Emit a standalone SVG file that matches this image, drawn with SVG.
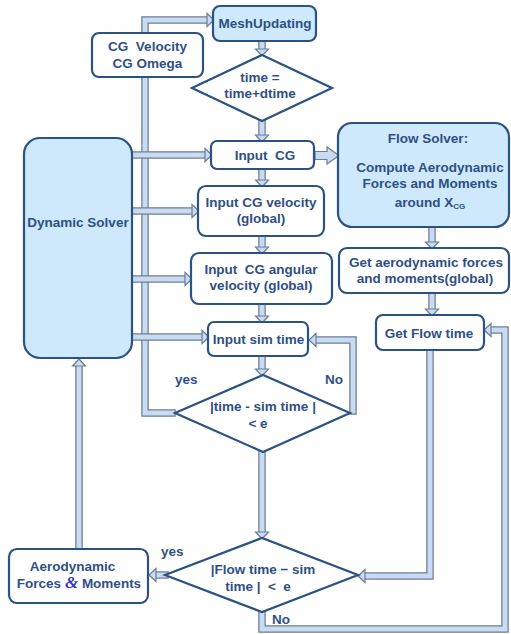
<svg xmlns="http://www.w3.org/2000/svg" xmlns:xlink="http://www.w3.org/1999/xlink" width="511" height="634" viewBox="0 0 511 634">
<defs>
<style>
.box{fill:#ffffff;stroke:#2b5283;stroke-width:2.2}
.blue{fill:#cde9fb}
.t{font-family:"Liberation Sans",Arial,sans-serif;font-weight:bold;font-size:13.5px;fill:#2f4f86;text-anchor:middle}
.l{text-anchor:start}
.po{fill:none;stroke:#6d7d92;stroke-width:7.5;stroke-linecap:square;stroke-linejoin:miter}
.pi{fill:none;stroke:#c8dbf2;stroke-width:5;stroke-linecap:square;stroke-linejoin:miter}
.ah{fill:#c8dbf2;stroke:#6d7d92;stroke-width:1.2;stroke-linejoin:miter}
</style>
<path id="ah" d="M0,0 L-7,-6.5 L-7,6.5 Z"/>
<path id="c1" d="M172,413 H145 V20 H205"/>
<path id="c2" d="M262,42 V47"/>
<path id="c3" d="M262,122 V133"/>
<path id="c4" d="M262,170 V178"/>
<path id="c5" d="M262,237 V245"/>
<path id="c6" d="M262,305 V314"/>
<path id="c7" d="M262,357 V367"/>
<path id="c8" d="M262,454 V530"/>
<path id="c9" d="M262,614 V629 H505 V330 H492"/>
<path id="c10" d="M430,352 V576 H367"/>
<path id="c11" d="M165,575 H157"/>
<path id="c12" d="M79,546 V368"/>
<path id="c13" d="M353,411 V340 H317"/>
<path id="c14" d="M130,155 H203"/>
<path id="c15" d="M130,211 H190"/>
<path id="c16" d="M130,279 H183"/>
<path id="c17" d="M130,337 H200"/>
<path id="c18" d="M432,230 V240"/>
<path id="c19" d="M432,296 V307"/>
</defs>

<g id="connectors">
<use xlink:href="#c1" class="po"/><use xlink:href="#c1" class="pi"/>
<use xlink:href="#ah" class="ah" transform="translate(214,20)"/>
<use xlink:href="#c14" class="po"/><use xlink:href="#c14" class="pi"/>
<use xlink:href="#ah" class="ah" transform="translate(212,155)"/>
<use xlink:href="#c15" class="po"/><use xlink:href="#c15" class="pi"/>
<use xlink:href="#ah" class="ah" transform="translate(199,211)"/>
<use xlink:href="#c16" class="po"/><use xlink:href="#c16" class="pi"/>
<use xlink:href="#ah" class="ah" transform="translate(192,279)"/>
<use xlink:href="#c17" class="po"/><use xlink:href="#c17" class="pi"/>
<use xlink:href="#ah" class="ah" transform="translate(209,337)"/>
<use xlink:href="#c2" class="po"/><use xlink:href="#c2" class="pi"/>
<use xlink:href="#ah" class="ah" transform="translate(262,56) rotate(90)"/>
<use xlink:href="#c3" class="po"/><use xlink:href="#c3" class="pi"/>
<use xlink:href="#ah" class="ah" transform="translate(262,142) rotate(90)"/>
<use xlink:href="#c4" class="po"/><use xlink:href="#c4" class="pi"/>
<use xlink:href="#ah" class="ah" transform="translate(262,187) rotate(90)"/>
<use xlink:href="#c5" class="po"/><use xlink:href="#c5" class="pi"/>
<use xlink:href="#ah" class="ah" transform="translate(262,254) rotate(90)"/>
<use xlink:href="#c6" class="po"/><use xlink:href="#c6" class="pi"/>
<use xlink:href="#ah" class="ah" transform="translate(262,323) rotate(90)"/>
<use xlink:href="#c7" class="po"/><use xlink:href="#c7" class="pi"/>
<use xlink:href="#ah" class="ah" transform="translate(262,376) rotate(90)"/>
<use xlink:href="#c8" class="po"/><use xlink:href="#c8" class="pi"/>
<use xlink:href="#ah" class="ah" transform="translate(262,539) rotate(90)"/>
<use xlink:href="#c9" class="po"/><use xlink:href="#c9" class="pi"/>
<use xlink:href="#ah" class="ah" transform="translate(484,330) rotate(180)"/>
<use xlink:href="#c10" class="po"/><use xlink:href="#c10" class="pi"/>
<use xlink:href="#ah" class="ah" transform="translate(358,576) rotate(180)"/>
<use xlink:href="#c11" class="po"/><use xlink:href="#c11" class="pi"/>
<use xlink:href="#ah" class="ah" transform="translate(149,575) rotate(180)"/>
<use xlink:href="#c12" class="po"/><use xlink:href="#c12" class="pi"/>
<use xlink:href="#ah" class="ah" transform="translate(79,359) rotate(-90)"/>
<use xlink:href="#c13" class="po"/><use xlink:href="#c13" class="pi"/>
<use xlink:href="#ah" class="ah" transform="translate(309,340) rotate(180)"/>
<use xlink:href="#c18" class="po"/><use xlink:href="#c18" class="pi"/>
<use xlink:href="#ah" class="ah" transform="translate(432,249) rotate(90)"/>
<use xlink:href="#c19" class="po"/><use xlink:href="#c19" class="pi"/>
<use xlink:href="#ah" class="ah" transform="translate(432,316) rotate(90)"/>
<polygon class="ah" points="315,151.5 327,151.5 327,147 339,155.5 327,164 327,159.5 315,159.5"/>
<text class="t l" x="175" y="384">yes</text>
<text class="t l" x="325" y="384">No</text>
<text class="t l" x="161" y="556">yes</text>
<text class="t l" x="272" y="624">No</text>
</g>

<g id="mesh">
<rect class="box blue" x="213" y="6" width="103" height="35" rx="7"/>
<text class="t" x="265" y="28">MeshUpdating</text>
</g>
<g id="cgvel">
<rect class="box" x="92" y="33" width="111" height="44" rx="7"/>
<text class="t" x="147.5" y="51" xml:space="preserve">CG  Velocity</text>
<text class="t" x="147.5" y="68">CG Omega</text>
</g>
<g id="timestep">
<polygon class="box" points="192,88 262,55 332,88 262,121"/>
<text class="t" x="260" y="82">time =</text>
<text class="t" x="260" y="98">time+dtime</text>
</g>
<g id="inputcg">
<rect class="box" x="211" y="141" width="103" height="28" rx="6"/>
<text class="t" x="265" y="160" xml:space="preserve">Input  CG</text>
</g>
<g id="inputvel">
<rect class="box" x="198" y="186" width="126" height="50" rx="8"/>
<text class="t" x="261" y="207">Input CG velocity</text>
<text class="t" x="261" y="223">(global)</text>
</g>
<g id="inputang">
<rect class="box" x="191" y="253" width="141" height="51" rx="8"/>
<text class="t" x="261" y="274" xml:space="preserve">Input  CG angular</text>
<text class="t" x="261" y="290">velocity (global)</text>
</g>
<g id="inputsim">
<rect class="box" x="208" y="322" width="100" height="34" rx="6"/>
<text class="t" x="258.5" y="344">Input sim time</text>
</g>
<g id="check1">
<polygon class="box" points="175,413 263,375 350,413 263,452"/>
<text class="t" x="263" y="411">|time - sim time |</text>
<text class="t" x="258" y="428">&lt; e</text>
</g>
<g id="dynamic">
<rect class="box blue" x="24" y="138" width="108" height="220" rx="16"/>
<text class="t" x="78" y="227">Dynamic Solver</text>
</g>
<g id="flowsolver">
<rect class="box blue" x="338" y="123" width="171" height="104" rx="14"/>
<text class="t" x="428" y="143">Flow Solver:</text>
<text class="t" x="430" y="172">Compute Aerodynamic</text>
<text class="t" x="430" y="188">Forces and Moments</text>
<text class="t" x="430" y="207">around X<tspan font-size="8" dy="2">CG</tspan></text>
</g>
<g id="getaero">
<rect class="box" x="339" y="248" width="170" height="45" rx="8"/>
<text class="t" x="426" y="267">Get aerodynamic forces</text>
<text class="t" x="425" y="283">and moments(global)</text>
</g>
<g id="getflow">
<rect class="box" x="376" y="315" width="108" height="35" rx="7"/>
<text class="t" x="429" y="338">Get Flow time</text>
</g>
<g id="check2">
<polygon class="box" points="165,575 262,538 358,575 262,612"/>
<text class="t" x="263" y="574">|Flow time − sim</text>
<text class="t" x="258" y="591" xml:space="preserve">time |  &lt;  e</text>
</g>
<g id="aeroforces">
<rect class="box" x="9" y="549" width="139" height="54" rx="8"/>
<text class="t" x="72.5" y="571">Aerodynamic</text>
<text class="t" x="79" y="588">Forces <tspan font-family="'Liberation Serif',serif" font-style="italic" font-size="17" fill="#3434c4">&amp;</tspan> Moments</text>
</g>
</svg>
